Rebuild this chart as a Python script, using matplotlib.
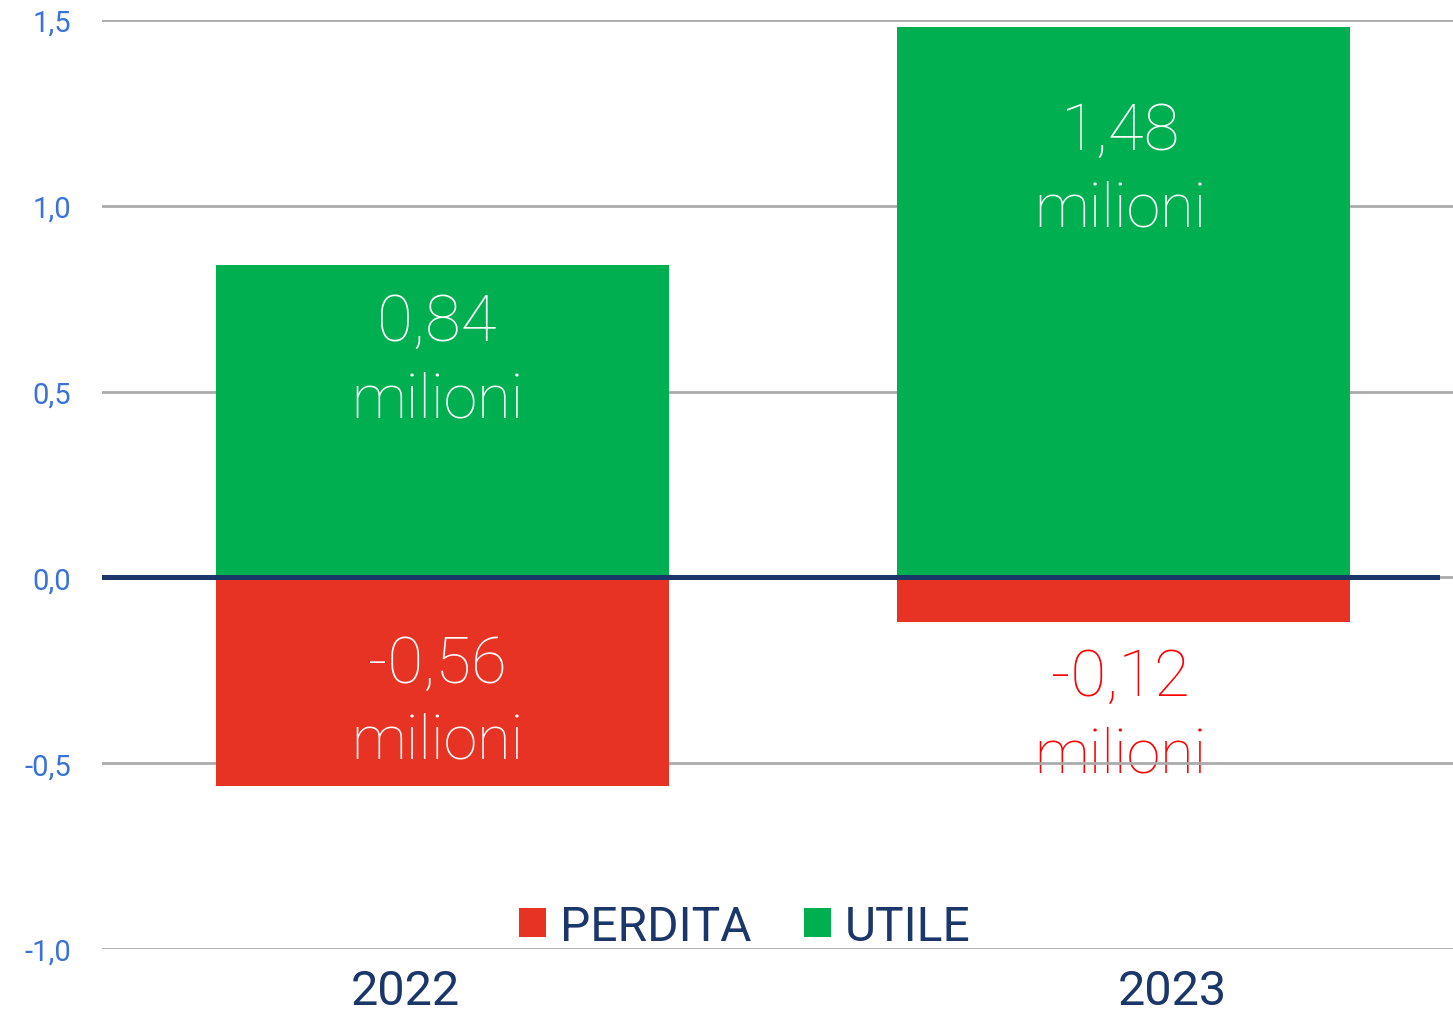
import numpy as np
import matplotlib
matplotlib.use("Agg")
import matplotlib.pyplot as plt

# dati (milioni di euro)
anni = ["2022", "2023"]
utile = [0.84, 1.48]
perdita = [-0.56, -0.12]

y_ticks = [-1.0, -0.5, 0.0, 0.5, 1.0, 1.5]

# colori
verde = "#00AF50"
rosso = "#E63323"
navy = "#1B3668"
blu = "#3A72D8"

plt.rcParams["font.family"] = ["Roboto", "DejaVu Sans"]

fig = plt.figure(figsize=(14.53, 10.2), dpi=100)
ax = fig.add_axes([0.0702, 0.0686, 0.9298, 0.9108])

x = np.arange(len(anni))
w = 0.665
b_perd = ax.bar(x, perdita, width=w, color=rosso, label="PERDITA", zorder=2)
b_util = ax.bar(x, utile, width=w, color=verde, label="UTILE", zorder=2)

ax.set_xlim(-0.5, 1.484)
ax.set_ylim(-1.0, 1.5)

# griglia e linea dello zero
ax.set_yticks(y_ticks)
ax.set_yticklabels([f"{v:.1f}".replace(".", ",") for v in y_ticks])
ax.yaxis.grid(True, color="#ABABAB", linewidth=2, zorder=1)
ax.axhline(0, xmin=0, xmax=0.988, color=navy, linewidth=3.6, zorder=3)
ax.tick_params(axis="y", length=0, pad=22, labelsize=21, labelcolor=blu)
for s in ax.spines.values():
    s.set_visible(False)

# etichette anni (un po' spostate come nell'originale)
ax.set_xticks([-0.055, 1.072])
ax.set_xticklabels(anni, fontsize=35, color=navy)
ax.tick_params(axis="x", length=0, pad=14)

# etichette valori
def fmt(v):
    return f"{v:.2f}".replace(".", ",")

lbl_x = [-0.008, 0.995]
y_num_u = [0.64, 1.152]
y_mil_u = [0.433, 0.947]
y_num_p = [-0.28, -0.315]
y_mil_p = [-0.484, -0.522]
col_p = ["white", "#FF0000"]
z_p = [4, 0.5]
for i in range(len(anni)):
    ax.text(lbl_x[i], y_num_u[i], fmt(utile[i]), ha="center", va="baseline",
            fontsize=47, color="white", fontweight="light", zorder=4)
    ax.text(lbl_x[i], y_mil_u[i], "milioni", ha="center", va="baseline",
            fontsize=44, color="white", fontweight="light", zorder=4)
    ax.text(lbl_x[i], y_num_p[i], fmt(perdita[i]), ha="center", va="baseline",
            fontsize=47, color=col_p[i], fontweight="light", zorder=4)
    ax.text(lbl_x[i], y_mil_p[i], "milioni", ha="center", va="baseline",
            fontsize=44, color=col_p[i], fontweight="light", zorder=z_p[i])

leg = ax.legend(handles=[b_perd, b_util], loc="center", bbox_to_anchor=(0.476, 0.024),
                ncol=2, frameon=False, fontsize=34.5, handlelength=0.55, handleheight=0.55,
                handletextpad=0.3, columnspacing=1.1, borderaxespad=0)
for t in leg.get_texts():
    t.set_color(navy)

fig.savefig("out.png", dpi=100)
